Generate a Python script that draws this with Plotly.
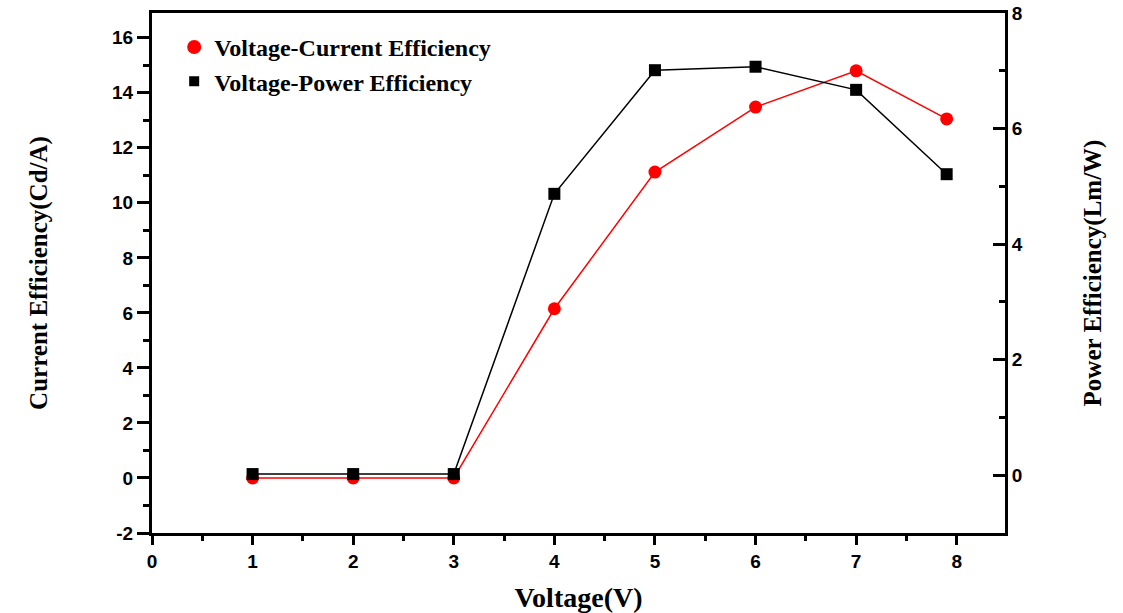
import plotly.graph_objects as go

voltage = [1, 2, 3, 4, 5, 6, 7, 7.9]
current_eff = [0.0, 0.0, 0.0, 6.15, 11.12, 13.48, 14.8, 13.05]
power_eff = [0.02, 0.02, 0.02, 4.87, 7.01, 7.07, 6.67, 5.21]

x_ticks = [0, 1, 2, 3, 4, 5, 6, 7, 8]
y1_ticks = [-2, 0, 2, 4, 6, 8, 10, 12, 14, 16]
y1_labels = ["-2", "0", "2", "4", "6", "8", "10", "12", "14", "16"]
y2_ticks = [0, 2, 4, 6, 8]

serif = "Liberation Serif, Times New Roman, serif"
sans = "Liberation Sans, Arial, sans-serif"

fig = go.Figure()
fig.add_trace(go.Scatter(
    x=voltage, y=current_eff, mode="lines+markers", yaxis="y",
    line=dict(color="#ff0000", width=1.5),
    marker=dict(symbol="circle", size=13, color="#ff0000"),
    showlegend=False, name="Voltage-Current Efficiency"))
fig.add_trace(go.Scatter(
    x=voltage, y=power_eff, mode="lines+markers", yaxis="y2",
    line=dict(color="#000000", width=1.5),
    marker=dict(symbol="square", size=12, color="#000000"),
    showlegend=False, name="Voltage-Power Efficiency"))
# legend entries (marker only, as in the reference)
fig.add_trace(go.Scatter(
    x=[None], y=[None], mode="markers", name="Voltage-Current Efficiency",
    marker=dict(symbol="circle", size=14, color="#ff0000")))
fig.add_trace(go.Scatter(
    x=[None], y=[None], mode="markers", name="Voltage-Power Efficiency",
    marker=dict(symbol="square", size=10, color="#000000")))

axis_common = dict(showgrid=False, zeroline=False, showline=True,
                   linecolor="black", linewidth=3, automargin=False,
                   tickfont=dict(family=sans, size=19, color="black", weight="bold"),
                   tickcolor="black", tickwidth=2.5)

fig.update_layout(
    width=1123, height=613,
    margin=dict(l=152, r=118, t=13, b=80),
    paper_bgcolor="white", plot_bgcolor="white",
    xaxis=dict(range=[0, 8.48], tickvals=x_ticks, ticks="outside", ticklen=9,
               mirror=True,
               minor=dict(tickvals=[0.5 + i for i in range(8)], ticks="outside",
                          ticklen=5, tickwidth=2.5, tickcolor="black"),
               title=dict(text="Voltage(V)", standoff=22,
                          font=dict(family=serif, size=28, color="black", weight="bold")),
               **axis_common),
    yaxis=dict(range=[-2, 16.9], tickvals=y1_ticks, ticktext=y1_labels,
               ticks="outside", ticklen=12,
               minor=dict(tickvals=[-1, 1, 3, 5, 7, 9, 11, 13, 15], ticks="outside",
                          ticklen=6, tickwidth=2.5, tickcolor="black"),
               title=dict(text="Current Efficiency(Cd/A)", standoff=58,
                          font=dict(family=serif, size=25, color="black", weight="bold")),
               **axis_common),
    yaxis2=dict(range=[-1, 8], tickvals=y2_ticks, ticks="inside", ticklen=12,
                overlaying="y", side="right",
                minor=dict(tickvals=[-1, 1, 3, 5, 7], ticks="inside",
                           ticklen=6, tickwidth=2.5, tickcolor="black"),
                title=dict(text="Power Efficiency(Lm/W)", standoff=62,
                           font=dict(family=serif, size=25, color="black", weight="bold")),
                **axis_common),
    legend=dict(x=0.026, y=0.977, xanchor="left", yanchor="top",
                bgcolor="rgba(0,0,0,0)", tracegroupgap=0, itemwidth=30,
                font=dict(family=serif, size=24, color="black", weight="bold")),
)

fig.write_html("out.html")
